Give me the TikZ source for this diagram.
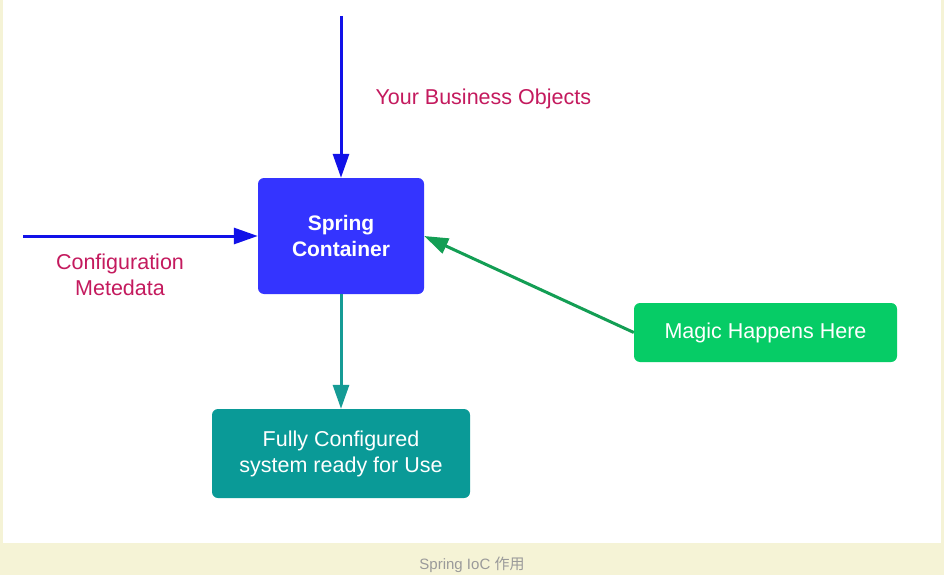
\documentclass[tikz,border=0pt]{standalone}
\usepackage{fontspec}
\setmainfont{Liberation Sans}
\newfontfamily\cjk{Noto Sans CJK SC}
\usepackage{xcolor}
\usepackage{tikz}
\usetikzlibrary{arrows.meta}

\definecolor{pagebeige}{HTML}{F5F3D6}
\definecolor{springblue}{HTML}{3434FF}
\definecolor{lineblue}{HTML}{1212E8}
\definecolor{labelred}{HTML}{C41A5E}
\definecolor{resultteal}{HTML}{0A9A97}
\definecolor{lineteal}{HTML}{159B95}
\definecolor{magicgreen}{HTML}{06CC66}
\definecolor{linegreen}{HTML}{139E54}
\definecolor{captiongrey}{HTML}{9A9A9A}

\begin{document}
\begin{tikzpicture}[x=1pt, y=-1pt, >={Triangle[length=24pt,width=16pt]},
  box/.style={rounded corners=6pt, text=white, align=center,
    font=\fontsize{21.5}{26}\selectfont, inner sep=0pt},
  flow/.style={->, line width=3pt},
  tag/.style={text=labelred, align=center, font=\fontsize{21.5}{26}\selectfont}]
  \useasboundingbox (0,0) rectangle (944,575);
  \fill[pagebeige] (0,0) rectangle (944,575);
  \fill[white] (3,0) rectangle (941,543);
  \node[box, fill=springblue, minimum width=166, minimum height=116,
    font=\fontsize{21}{26}\selectfont\bfseries] (container) at (341,236) {Spring\\Container};
  \node[box, fill=resultteal, minimum width=258, minimum height=89] (result) at (341,453.5)
    {Fully Configured\\system ready for Use};
  \node[box, fill=magicgreen, minimum width=263, minimum height=59] (magic) at (765.5,332.5)
    {Magic Happens Here};
  \coordinate (bizin) at (341,16);
  \coordinate (cfgin) at (23,236);
  \draw[flow, lineblue] (bizin) -- (container);
  \draw[flow, lineblue] (cfgin) -- (container);
  \draw[flow, lineteal] (container) -- (result);
  \draw[flow, linegreen] (magic.west) -- (container.east);
  \node[tag, anchor=west] (bizlabel) at (372,99) {Your Business Objects};
  \node[tag] (cfglabel) at (120,275) {Configuration\\Metedata};
  \node[text=captiongrey, font=\fontsize{15}{18}\selectfont] (caption) at (472,565)
    {Spring IoC {\cjk 作用}};
\end{tikzpicture}
\end{document}
